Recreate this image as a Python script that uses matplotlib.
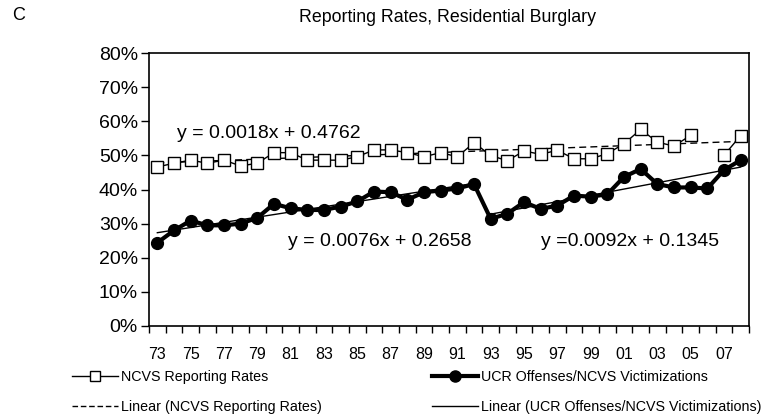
import matplotlib
matplotlib.use("Agg")
import matplotlib.pyplot as plt
import numpy as np
from matplotlib.lines import Line2D

plt.rcParams['font.family'] = ['Liberation Sans', 'DejaVu Sans']

years = list(range(1973, 2009))
tick_labels = [f"{y % 100:02d}" for y in years]

ncvs = [0.466, 0.477, 0.486, 0.477, 0.486, 0.469, 0.477, 0.508, 0.508,
        0.486, 0.486, 0.486, 0.496, 0.516, 0.516, 0.508, 0.496, 0.508,
        0.496, 0.537, 0.500, 0.484, 0.513, 0.503, 0.515, 0.490, 0.490,
        0.505, 0.534, 0.576, 0.539, 0.527, 0.559, np.nan, 0.500, 0.558]

ucr = [0.244, 0.280, 0.309, 0.295, 0.295, 0.300, 0.317, 0.358, 0.345,
       0.340, 0.340, 0.350, 0.365, 0.394, 0.392, 0.370, 0.392, 0.397,
       0.403, 0.416, 0.314, 0.329, 0.363, 0.343, 0.353, 0.382, 0.379,
       0.386, 0.437, 0.460, 0.416, 0.406, 0.406, 0.403, 0.457, 0.486]

# trend equations shown on the chart (x = 1..36 period index)
ncvs_trend = (0.0018, 0.4762)
ucr_trend1 = (0.0076, 0.2658)   # 1973-1992
ucr_trend2 = (0.0092, 0.1345)   # 1993-2008

fig = plt.figure(figsize=(7.74, 4.17), dpi=100)
ax = fig.add_axes([149/774, 1-326/417, 600/774, 273/417])

pos = np.arange(len(years))
xi = pos + 1

# trend lines
ax.plot(pos, ncvs_trend[0]*xi + ncvs_trend[1], color='black', lw=1.0,
        ls=(0, (5, 3)), zorder=2)
m1 = pos <= 19
m2 = pos >= 20
ax.plot(pos[m1], ucr_trend1[0]*xi[m1] + ucr_trend1[1], color='black', lw=1.0, zorder=2)
ax.plot(pos[m2], ucr_trend2[0]*xi[m2] + ucr_trend2[1], color='black', lw=1.0, zorder=2)

# series
ax.plot(pos, ncvs, color='black', lw=1.0, marker='s', ms=8.5, mfc='white',
        mec='black', mew=1.0, zorder=3)
ax.plot(pos, ucr, color='black', lw=3.0, marker='o', ms=8.5, mfc='black',
        mec='black', zorder=4)

ax.set_xlim(-0.5, len(years) - 0.5)
ax.set_ylim(0, 0.8)
ax.set_yticks(np.arange(0, 0.81, 0.1))
ax.set_yticklabels([f"{int(round(v*100))}%" for v in np.arange(0, 0.81, 0.1)],
                   fontsize=14)
ax.set_xticks(pos[::2])
ax.set_xticklabels(tick_labels[::2], fontsize=11.5)
ax.set_xticks(np.arange(-0.5, len(years), 1), minor=True)
ax.tick_params(axis='x', which='major', length=0, pad=15)
ax.tick_params(axis='x', which='minor', length=5, direction='out', width=1)
ax.tick_params(axis='y', length=6, direction='out', width=1, pad=2)
for s in ax.spines.values():
    s.set_linewidth(1.2)

# equation annotations
ax.text(1.18, 0.565, "y = 0.0018x + 0.4762", fontsize=14, va='center', ha='left')
ax.text(7.85, 0.247, "y = 0.0076x + 0.2658", fontsize=14, va='center', ha='left')
ax.text(23.0, 0.247, "y =0.0092x + 0.1345", fontsize=14, va='center', ha='left')

fig.text(12/774, 1-15/417, "C", fontsize=13, va='center', ha='left')
fig.text(448/774, 1-18/417, "Reporting Rates, Residential Burglary", fontsize=12.8,
         va='center', ha='center')

h_ncvs = Line2D([], [], color='black', lw=1.0, marker='s', ms=7, mfc='white', mec='black')
h_lin_ncvs = Line2D([], [], color='black', lw=1.0, ls=(0, (4, 2)))
h_ucr = Line2D([], [], color='black', lw=3.0, marker='o', ms=8, mfc='black')
h_lin_ucr = Line2D([], [], color='black', lw=1.0)

leg_kw = dict(frameon=False, handlelength=3.2, handletextpad=0.25,
              labelspacing=1.1, borderpad=0, borderaxespad=0,
              prop={'size': 10.3}, loc='upper left')
l1 = fig.legend([h_ncvs, h_lin_ncvs], ["NCVS Reporting Rates", "Linear (NCVS Reporting Rates)"],
                bbox_to_anchor=(72/774, 1-370/417), **leg_kw)
l2 = fig.legend([h_ucr, h_lin_ucr], ["UCR Offenses/NCVS Victimizations",
                                     "Linear (UCR Offenses/NCVS Victimizations)"],
                bbox_to_anchor=(432/774, 1-370/417), **leg_kw)

fig.savefig("out.png", dpi=100)
